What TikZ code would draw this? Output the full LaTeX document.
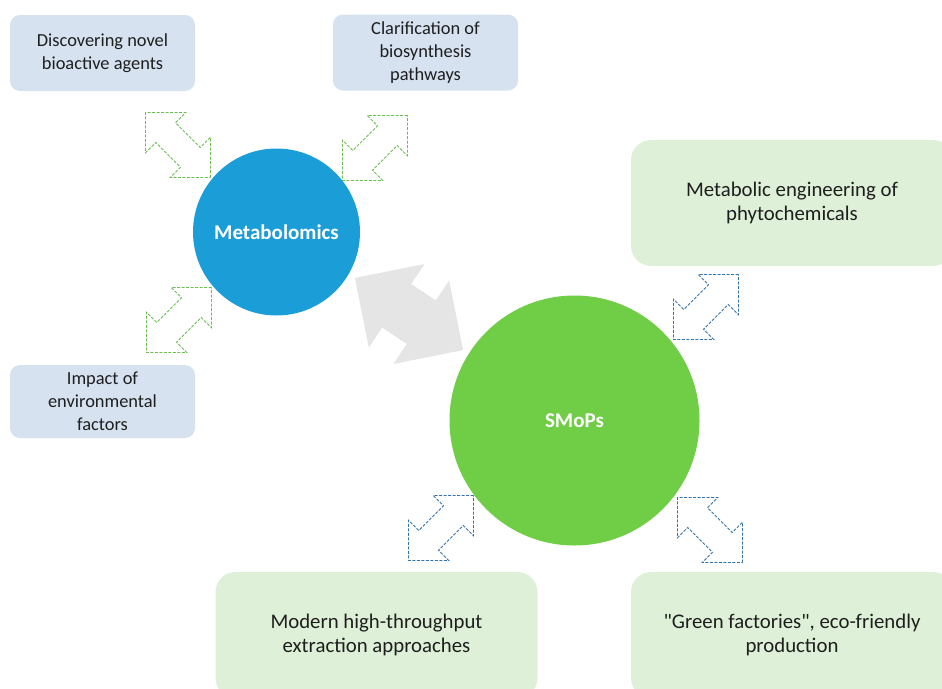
\documentclass[tikz,border=0pt]{standalone}
\usepackage{fontspec}
\setmainfont{Carlito}
\usetikzlibrary{shapes.arrows}

\definecolor{metabblue}{RGB}{27,157,215}
\definecolor{smopsgreen}{RGB}{112,205,70}
\definecolor{boxblue}{RGB}{214,226,240}
\definecolor{boxgreen}{RGB}{223,240,216}
\definecolor{dashgreen}{RGB}{106,190,80}
\definecolor{dashblue}{RGB}{50,115,175}
\definecolor{txtgray}{RGB}{30,30,30}

\begin{document}
\begin{tikzpicture}[x=1pt, y=-1pt,
	nodes={text=txtgray, align=center},
	hub/.style={circle, inner sep=0pt, text=white, font=\fontsize{21}{25}\selectfont\bfseries},
	bluebox/.style={rectangle, rounded corners=10pt, fill=boxblue, minimum width=185pt, minimum height=76pt, font=\fontsize{18.4}{23}\selectfont},
	greenbox/.style={rectangle, rounded corners=20pt, fill=boxgreen, minimum width=322pt, minimum height=126pt, font=\fontsize{20.8}{24.5}\selectfont},
	link/.style={double arrow, double arrow tip angle=90, double arrow head extend=14.5pt,
		minimum height=92pt, inner xsep=0pt, inner ysep=13.5pt,
		dash pattern=on 3pt off 1.5pt, line width=0.9pt}]
	\useasboundingbox (0,0) rectangle (942,688);
	
	% the two hubs
	\node[hub, fill=metabblue, minimum size=167pt] (metab) at (276.5,232) {Metabolomics};
	\node[hub, fill=smopsgreen, minimum size=250pt] (smops) at (574.5,420.5) {SMoPs};
	
	% topics
	\node[bluebox] (discover) at (102.5,53) {Discovering novel\\bioactive agents};
	\node[bluebox] (clarify) at (425.5,52.5) {Clarification of\\biosynthesis\\pathways};
	\node[bluebox, minimum height=73pt] (impact) at (102.5,401.5) {Impact of\\environmental\\factors};
	\node[greenbox] (engineer) at (792,203) {Metabolic engineering of\\phytochemicals};
	\node[greenbox] (extract) at (376.5,635) {Modern high-throughput\\extraction approaches};
	\node[greenbox] (factory) at (792,635) {\textquotedbl Green factories\textquotedbl, eco-friendly\\production};
	
	% dashed double arrows
	\foreach \name/\x/\y/\ang in {lm1/178/145/-45, lm2/375/148/45, lm3/179/320/45}
		\node[link, draw=dashgreen, rotate=\ang] (\name) at (\x,\y) {};
	\foreach \name/\x/\y/\ang in {ls1/706/307/45, ls2/441/528/45, ls3/710/530/-45}
		\node[link, draw=dashblue, rotate=\ang] (\name) at (\x,\y) {};
	
	% big exchange arrow
	\node[double arrow, double arrow tip angle=90, double arrow head extend=24pt,
		minimum height=130pt, inner xsep=0pt, inner ysep=26pt,
		fill=gray!20, rotate=-33.7] (swap) at (409,314) {};
	
\end{tikzpicture}
\end{document}
